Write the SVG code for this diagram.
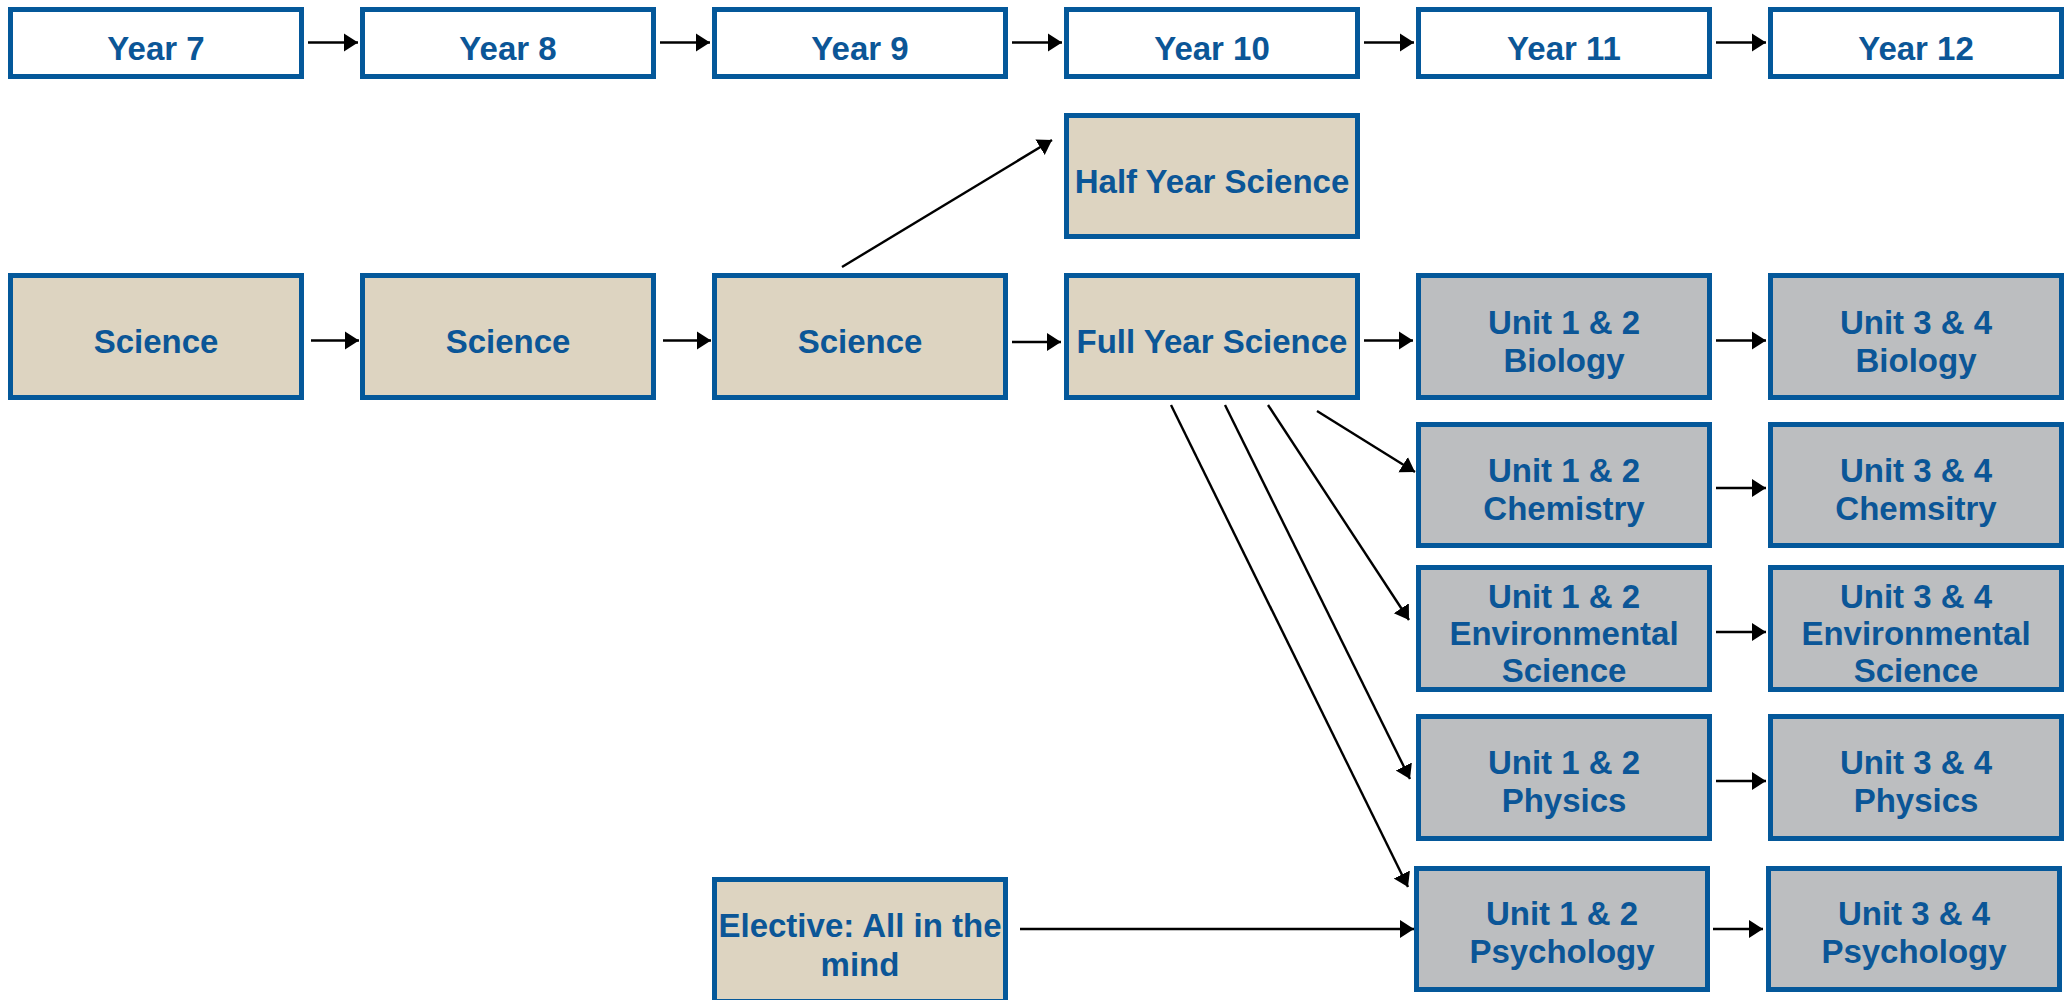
<svg xmlns="http://www.w3.org/2000/svg" width="2071" height="1000" viewBox="0 0 2071 1000">
<style>
rect.n{stroke:#04589a;stroke-width:5}
.y{fill:#ffffff}
.t{fill:#ddd4c1}
.g{fill:#bcbec0}
text{font-family:"Liberation Sans",Arial,sans-serif;font-weight:700;font-size:33px;fill:#0b5697;text-anchor:middle}
.c line{stroke:#000;stroke-width:2.4;marker-end:url(#ah)}
</style>
<defs>
<marker id="ah" markerUnits="userSpaceOnUse" markerWidth="15" markerHeight="20" refX="14" refY="10" orient="auto">
<path d="M0,1 L14,10 L0,19 Z" fill="#000"/>
</marker>
</defs>
<rect width="2071" height="1000" fill="#ffffff"/>
<g id="year7"><rect class="n y" x="10.5" y="9.5" width="291" height="67"/><text x="156" y="60">Year 7</text></g>
<g id="year8"><rect class="n y" x="362.5" y="9.5" width="291" height="67"/><text x="508" y="60">Year 8</text></g>
<g id="year9"><rect class="n y" x="714.5" y="9.5" width="291" height="67"/><text x="860" y="60">Year 9</text></g>
<g id="year10"><rect class="n y" x="1066.5" y="9.5" width="291" height="67"/><text x="1212" y="60">Year 10</text></g>
<g id="year11"><rect class="n y" x="1418.5" y="9.5" width="291" height="67"/><text x="1564" y="60">Year 11</text></g>
<g id="year12"><rect class="n y" x="1770.5" y="9.5" width="291" height="67"/><text x="1916" y="60">Year 12</text></g>
<g id="half"><rect class="n t" x="1066.5" y="115.5" width="291" height="121"/><text x="1212" y="193">Half Year Science</text></g>
<g id="sci7"><rect class="n t" x="10.5" y="275.5" width="291" height="122"/><text x="156" y="353">Science</text></g>
<g id="sci8"><rect class="n t" x="362.5" y="275.5" width="291" height="122"/><text x="508" y="353">Science</text></g>
<g id="sci9"><rect class="n t" x="714.5" y="275.5" width="291" height="122"/><text x="860" y="353">Science</text></g>
<g id="full"><rect class="n t" x="1066.5" y="275.5" width="291" height="122"/><text x="1212" y="353">Full Year Science</text></g>
<g id="bio12"><rect class="n g" x="1418.5" y="275.5" width="291" height="122"/><text x="1564" y="334">Unit 1 &amp; 2</text><text x="1564" y="372">Biology</text></g>
<g id="bio34"><rect class="n g" x="1770.5" y="275.5" width="291" height="122"/><text x="1916" y="334">Unit 3 &amp; 4</text><text x="1916" y="372">Biology</text></g>
<g id="chem12"><rect class="n g" x="1418.5" y="424.5" width="291" height="121"/><text x="1564" y="482">Unit 1 &amp; 2</text><text x="1564" y="520">Chemistry</text></g>
<g id="chem34"><rect class="n g" x="1770.5" y="424.5" width="291" height="121"/><text x="1916" y="482">Unit 3 &amp; 4</text><text x="1916" y="520">Chemsitry</text></g>
<g id="env12"><rect class="n g" x="1418.5" y="567.5" width="291" height="122"/><text x="1564" y="608">Unit 1 &amp; 2</text><text x="1564" y="645">Environmental</text><text x="1564" y="682">Science</text></g>
<g id="env34"><rect class="n g" x="1770.5" y="567.5" width="291" height="122"/><text x="1916" y="608">Unit 3 &amp; 4</text><text x="1916" y="645">Environmental</text><text x="1916" y="682">Science</text></g>
<g id="phys12"><rect class="n g" x="1418.5" y="716.5" width="291" height="122"/><text x="1564" y="774">Unit 1 &amp; 2</text><text x="1564" y="812">Physics</text></g>
<g id="phys34"><rect class="n g" x="1770.5" y="716.5" width="291" height="122"/><text x="1916" y="774">Unit 3 &amp; 4</text><text x="1916" y="812">Physics</text></g>
<g id="psych12"><rect class="n g" x="1416.5" y="868.5" width="291" height="121"/><text x="1562" y="925">Unit 1 &amp; 2</text><text x="1562" y="963">Psychology</text></g>
<g id="psych34"><rect class="n g" x="1768.5" y="868.5" width="291" height="121"/><text x="1914" y="925">Unit 3 &amp; 4</text><text x="1914" y="963">Psychology</text></g>
<g id="elective"><rect class="n t" x="714.5" y="879.5" width="291" height="122"/><text x="860" y="937">Elective: All in the</text><text x="860" y="976">mind</text></g>
<g id="connectors" class="c">
<line x1="308" y1="42.5" x2="358" y2="42.5"/>
<line x1="660" y1="42.5" x2="710" y2="42.5"/>
<line x1="1012" y1="42.5" x2="1062" y2="42.5"/>
<line x1="1364" y1="42.5" x2="1414" y2="42.5"/>
<line x1="1716" y1="42.5" x2="1766" y2="42.5"/>
<line x1="311" y1="340.5" x2="359" y2="340.5"/>
<line x1="663" y1="340.5" x2="711" y2="340.5"/>
<line x1="1012" y1="342" x2="1061" y2="342"/>
<line x1="1364" y1="340.5" x2="1413" y2="340.5"/>
<line x1="1716" y1="340.5" x2="1766" y2="340.5"/>
<line x1="1716" y1="488" x2="1766" y2="488"/>
<line x1="1716" y1="632" x2="1766" y2="632"/>
<line x1="1716" y1="781" x2="1766" y2="781"/>
<line x1="1713" y1="929" x2="1763" y2="929"/>
<line x1="1020" y1="929" x2="1414" y2="929"/>
<line x1="842" y1="267" x2="1052" y2="140"/>
<line x1="1317" y1="411" x2="1415" y2="472"/>
<line x1="1268" y1="405" x2="1409" y2="620"/>
<line x1="1225" y1="405" x2="1410" y2="779"/>
<line x1="1171" y1="405" x2="1408" y2="887"/>
</g>
</svg>
